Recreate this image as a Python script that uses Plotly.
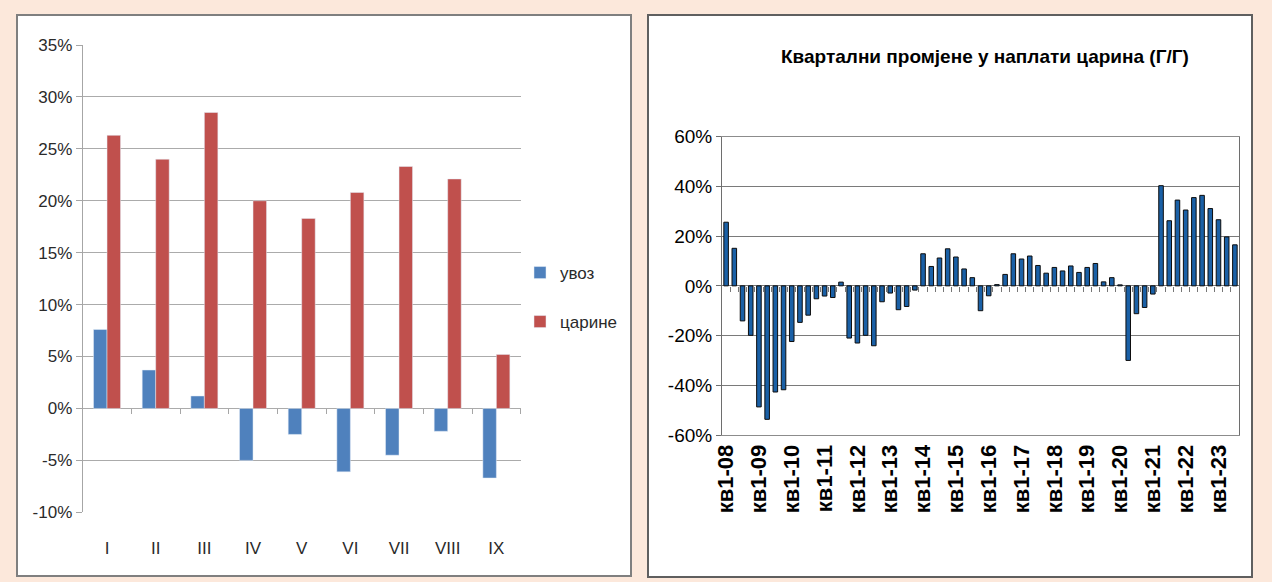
import plotly.graph_objects as go

# ---------------- data ----------------
months = ["I", "II", "III", "IV", "V", "VI", "VII", "VIII", "IX"]
uvoz = [7.6, 3.7, 1.2, -5.0, -2.5, -6.1, -4.5, -2.2, -6.7]
carine = [26.3, 24.0, 28.5, 20.0, 18.3, 20.8, 23.3, 22.1, 5.2]

left_ticks = [-10, -5, 0, 5, 10, 15, 20, 25, 30, 35]
left_ticktext = ["-10%", "-5%", "0%", "5%", "10%", "15%", "20%", "25%", "30%", "35%"]

quarters = [f"кв{q}-{y:02d}" for y in range(8, 24) for q in range(1, 5)][:63]
quarterly_change = [
    25.6, 15.1, -14.1, -19.9, -48.7, -53.7, -42.7, -41.8,
    -22.4, -14.7, -11.8, -5.2, -4.1, -4.7, 1.5, -21.0,
    -23.0, -19.9, -24.1, -6.4, -2.9, -9.6, -8.3, -1.7,
    12.9, 7.8, 11.2, 14.9, 11.6, 6.8, 3.3, -10.0,
    -4.0, 0.5, 4.6, 12.9, 10.8, 12.0, 8.2, 5.1,
    7.4, 6.0, 8.0, 5.4, 7.4, 9.0, 1.6, 3.3,
    0.4, -30.0, -11.2, -8.7, -3.3, 40.3, 26.2, 34.5,
    30.5, 35.5, 36.4, 31.1, 26.6, 19.7, 16.5,
]
year_labels = [q for q in quarters if q.startswith("кв1-")]

right_ticks = [-60, -40, -20, 0, 20, 40, 60]
right_ticktext = ["-60%", "-40%", "-20%", "0%", "20%", "40%", "60%"]

title_right = "Квартални промјене у наплати царина (Г/Г)"

# ---------------- layout geometry ----------------
W, H = 1272, 582
def px(x): return x / W
def py(y): return 1 - y / H

L_x = [px(82.7), px(520.7)]
L_y = [py(512.3), py(45.0)]
R_x = [px(722), px(1239)]
R_y = [py(435.0), py(136.7)]

zero_left = L_y[0] + (0 - (-10)) / 45 * (L_y[1] - L_y[0])
zero_right = R_y[0] + (0 - (-60)) / 120 * (R_y[1] - R_y[0])

narrow = "Liberation Sans Narrow, Arial Narrow, Liberation Sans, Arial, sans-serif"
arial = "Liberation Sans, Arial, sans-serif"

fig = go.Figure()

fig.add_trace(go.Bar(x=months, y=uvoz, name="увоз", marker_color="#4F81BD",
                     xaxis="x", yaxis="y", legend="legend"))
fig.add_trace(go.Bar(x=months, y=carine, name="царине", marker_color="#C0504D",
                     xaxis="x", yaxis="y", legend="legend2"))
fig.add_trace(go.Bar(x=quarters, y=quarterly_change, name="царина",
                     marker=dict(color="#1A60A6", line=dict(color="#0D0D0D", width=1)),
                     xaxis="x2", yaxis="y2", showlegend=False))
# helpers for the tick marks on the zero lines
fig.add_trace(go.Scatter(x=[None], y=[None], xaxis="x3", yaxis="y",
                         showlegend=False, hoverinfo="skip"))
fig.add_trace(go.Scatter(x=[None], y=[None], xaxis="x4", yaxis="y2",
                         showlegend=False, hoverinfo="skip"))

lbl_font = dict(family=narrow, size=17, color="#2A2A2A")

fig.update_layout(
    width=W, height=H,
    margin=dict(l=0, r=0, t=0, b=0, pad=0, autoexpand=False),
    paper_bgcolor="#FCE8DB",
    plot_bgcolor="white",
    barmode="group",
    bargap=0.445,
    bargroupgap=0,
    font=dict(family=narrow, color="#262626"),
    xaxis=dict(domain=L_x, anchor="y", type="category", categoryorder="array",
               categoryarray=months, showgrid=False, zeroline=False, showline=False,
               ticks="", tickfont=lbl_font, ticklabelstandoff=24, automargin=False),
    yaxis=dict(domain=L_y, anchor="x", range=[-10, 35],
               tickvals=left_ticks, ticktext=left_ticktext,
               showgrid=True, gridcolor="#ABABAB", gridwidth=1, zeroline=False,
               showline=True, linecolor="#A6A6A6", ticks="outside", ticklen=6,
               tickcolor="#A6A6A6", tickfont=lbl_font, automargin=False),
    xaxis3=dict(domain=L_x, overlaying="x", anchor="free", position=zero_left,
                range=[-0.5, 8.5], tickvals=[i - 0.5 for i in range(10)],
                ticks="outside", ticklen=5, tickcolor="#A6A6A6", showticklabels=False,
                showgrid=False, zeroline=False, showline=False, automargin=False),
    xaxis2=dict(domain=R_x, anchor="y2", type="category", categoryorder="array",
                categoryarray=quarters, tickvals=year_labels, ticktext=year_labels,
                tickangle=-90, showgrid=False, zeroline=False, showline=True,
                mirror=True, linecolor="#8C8C8C", ticks="", automargin=False,
                tickfont=dict(family=arial, size=22, color="#000000", weight="bold")),
    yaxis2=dict(domain=R_y, anchor="x2", range=[-60, 60],
                tickvals=right_ticks, ticktext=right_ticktext,
                showgrid=True, gridcolor="#7A7A7A", gridwidth=1, zeroline=False,
                showline=True, mirror=True, linecolor="#6E6E6E", ticks="outside",
                ticklen=5, tickcolor="#6E6E6E", automargin=False,
                tickfont=dict(family=arial, size=19, color="#000000")),
    xaxis4=dict(domain=R_x, overlaying="x2", anchor="free", position=zero_right,
                range=[-0.5, 62.5], tickvals=[i + 0.5 for i in range(62)],
                ticks="outside", ticklen=5, tickcolor="#777777", showticklabels=False,
                showgrid=False, zeroline=False, showline=False, automargin=False),
    legend=dict(x=px(520), y=py(273), xanchor="left", yanchor="middle",
                bgcolor="rgba(0,0,0,0)", font=lbl_font),
    legend2=dict(x=px(520), y=py(322), xanchor="left", yanchor="middle",
                 bgcolor="rgba(0,0,0,0)", font=lbl_font),
    shapes=[
        dict(type="rect", xref="paper", yref="paper", layer="below",
             x0=px(17), x1=px(631), y0=py(576), y1=py(15),
             fillcolor="white", line=dict(color="#7F7F7F", width=2)),
        dict(type="rect", xref="paper", yref="paper", layer="below",
             x0=px(648), x1=px(1252), y0=py(577), y1=py(15),
             fillcolor="white", line=dict(color="#5F5F5F", width=2)),
    ],
    annotations=[
        dict(text=title_right, xref="paper", yref="paper", x=px(985), y=py(57),
             xanchor="center", yanchor="middle", showarrow=False,
             font=dict(family=arial, size=19, color="#000000", weight="bold")),
    ],
)

fig.write_html(
    "out.html",
    config={"displayModeBar": False},
    post_script="document.body.style.margin='0';document.body.style.background='#FCE8DB';",
)
